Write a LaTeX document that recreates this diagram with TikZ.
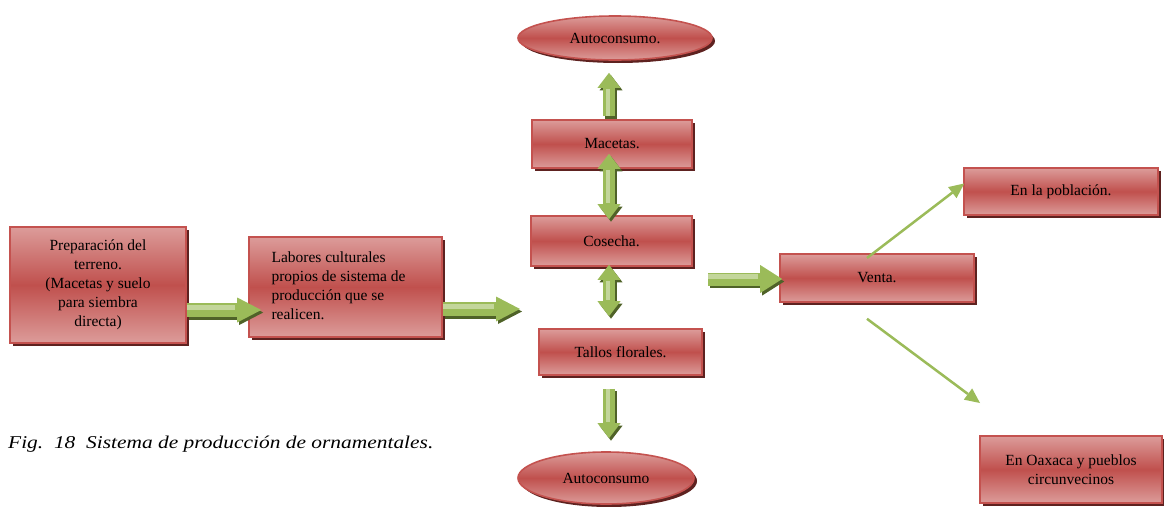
\documentclass[tikz,border=0pt]{standalone}
\usepackage{fontspec}
\setmainfont{Liberation Serif}
\usetikzlibrary{shapes.geometric,shadows,arrows.meta,calc}
\definecolor{rlight}{HTML}{DC9C9A}
\definecolor{rmid}{HTML}{C0504D}
\definecolor{rborder}{HTML}{C4524F}
\definecolor{rshadow}{HTML}{5E2220}
\definecolor{glight}{HTML}{C3D69B}
\definecolor{gmid}{HTML}{9BBB59}
\definecolor{gshadow}{HTML}{4F6228}
\begin{document}
\begin{tikzpicture}[x=1pt,y=-1pt,
  redshade/.style={draw=rborder, line width=1.6pt, top color=rlight, bottom color=rlight, middle color=rmid,
    drop shadow={shadow xshift=3pt, shadow yshift=-3pt, fill=rshadow, opacity=1}},
  rbox/.style={rectangle, redshade, inner sep=0pt, font=\fontsize{15.5}{19}\selectfont, text=black},
  rell/.style={ellipse, redshade, inner sep=0pt, font=\fontsize{15.5}{19}\selectfont, text=black},
  hfat/.style={line width=14pt, gmid, -{Triangle[length=24pt,width=25pt,line width=0pt]}},
  hfatb/.style={line width=13pt, gmid, -{Triangle[length=22pt,width=28pt,line width=0pt]}},
  vfat/.style={line width=12pt, gmid, -{Triangle[length=15pt,width=23pt,line width=0pt]}},
  vdfat/.style={line width=12pt, gmid, {Triangle[length=15pt,width=23pt,line width=0pt]}-{Triangle[length=15pt,width=23pt,line width=0pt]}},
  fatshadow/.style={gshadow, transform canvas={shift={(2pt,-2.5pt)}}},
  thinarr/.style={line width=2.5pt, gmid, -{Triangle[length=15pt,width=14pt,line width=0pt]}}
]
\useasboundingbox (0,0) rectangle (1164,506);

% boxes
\node[rbox, minimum width=176pt, minimum height=116pt, align=center] (prep) at (98,285)
  {Preparación del\\terreno.\\(Macetas y suelo\\para siembra\\directa)};
\node[rbox, minimum width=193pt, minimum height=100pt] (lab) at (345.5,287)
  {\begin{tabular}{@{}l@{}}Labores culturales\\[0pt]propios de sistema de\\producción que se\\realicen.\end{tabular}\hspace*{14pt}};
\node[rell, minimum width=194pt, minimum height=44pt] (ell1) at (615,38) {\raisebox{-2pt}{Autoconsumo.}};
\node[rbox, minimum width=160pt, minimum height=48pt] (mac) at (612,144) {Macetas.};
\node[rbox, minimum width=161pt, minimum height=50pt] (cos) at (611.5,241) {Cosecha.};
\node[rbox, minimum width=163pt, minimum height=46pt] (tal) at (620.5,352) {Tallos florales.};
\node[rell, minimum width=176pt, minimum height=52pt] (ell2) at (606,478) {Autoconsumo};
\node[rbox, minimum width=194pt, minimum height=48pt] (venta) at (877,278) {Venta.};
\node[rbox, minimum width=194pt, minimum height=47pt] (pob) at (1061,191.5) {En la población.};
\node[rbox, minimum width=182pt, minimum height=67pt, align=center] (oax) at (1071,469.5)
  {En Oaxaca y pueblos\\circunvecinos};

% free ends
\coordinate (a2end) at (520,309);
\coordinate (a3start) at (708,279);
\coordinate (l2end) at (980,403);

% horizontal block arrows
\draw[hfat, fatshadow] ($(prep.east)+(0,25)$) -- ($(lab.west)+(13,23)$);
\draw[hfat] ($(prep.east)+(0,25)$) -- ($(lab.west)+(13,23)$);
\draw[line width=5pt, glight, shorten >=26pt] ($(prep.east)+(0,22)$) -- ($(lab.west)+(13,20)$);

\draw[hfat, fatshadow] ($(lab.east)+(0,22)$) -- (a2end);
\draw[hfat] ($(lab.east)+(0,22)$) -- (a2end);
\draw[line width=5pt, glight, shorten >=26pt] ($(lab.east)+(0,19)$) -- ($(a2end)+(0,-3)$);

\draw[hfatb, fatshadow] (a3start) -- ($(venta.west)+(3,1)$);
\draw[hfatb] (a3start) -- ($(venta.west)+(3,1)$);
\draw[line width=5pt, glight, shorten >=24pt] ($(a3start)+(0,-3)$) -- ($(venta.west)+(3,-2)$);

% vertical block arrows
\draw[vfat, fatshadow] ($(mac.north)+(-3,-3)$) -- ($(ell1.south)+(-6,12)$);
\draw[vfat] ($(mac.north)+(-3,-3)$) -- ($(ell1.south)+(-6,12)$);
\draw[line width=4pt, glight, shorten >=16pt] ($(mac.north)+(-4,-3)$) -- ($(ell1.south)+(-7,12)$);

\draw[vdfat, fatshadow] ($(mac.south)+(-3,-15)$) -- ($(cos.north)+(-2.5,4)$);
\draw[vdfat] ($(mac.south)+(-3,-15)$) -- ($(cos.north)+(-2.5,4)$);
\draw[line width=4pt, glight, shorten >=16pt, shorten <=16pt] ($(mac.south)+(-4,-15)$) -- ($(cos.north)+(-3.5,4)$);

\draw[vdfat, fatshadow] ($(cos.south)+(-2.5,-2)$) -- ($(tal.north)+(-11.5,-12)$);
\draw[vdfat] ($(cos.south)+(-2.5,-2)$) -- ($(tal.north)+(-11.5,-12)$);
\draw[line width=4pt, glight, shorten >=16pt, shorten <=16pt] ($(cos.south)+(-3.5,-2)$) -- ($(tal.north)+(-12.5,-12)$);

\draw[vfat, fatshadow] ($(tal.south)+(-11.5,13)$) -- ($(ell2.north)+(3,-13)$);
\draw[vfat] ($(tal.south)+(-11.5,13)$) -- ($(ell2.north)+(3,-13)$);
\draw[line width=4pt, glight, shorten >=16pt] ($(tal.south)+(-12.5,13)$) -- ($(ell2.north)+(2,-13)$);

% thin arrows from Venta
\draw[thinarr] ($(venta.center)+(-10,-20)$) -- ($(pob.west)+(1,-8)$);
\draw[thinarr] ($(venta.south)+(-10,16)$) -- (l2end);

% caption
\node[anchor=base west, inner sep=0pt, font=\fontsize{18}{21}\selectfont\itshape] (cap) at (8,448)
  {\scalebox{1.19}[1]{Fig.\ \ 18\ \ Sistema de producción de ornamentales.}};
\end{tikzpicture}
\end{document}
